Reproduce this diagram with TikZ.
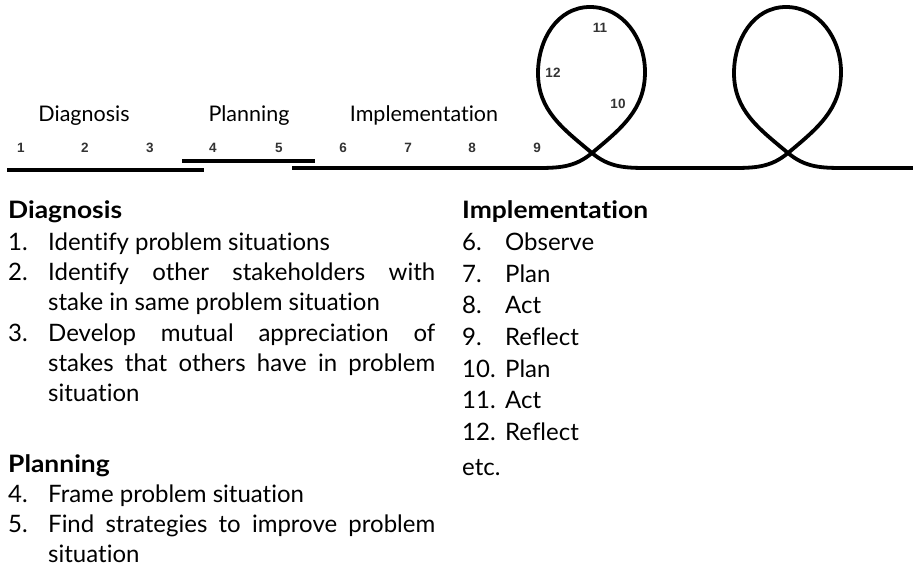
\documentclass[tikz,border=0pt]{standalone}
\usepackage{fontspec}
\setmainfont{Lato}[Ligatures=NoCommon, BoldFeatures={FakeStretch=1.1}]
\newfontfamily\tickfont{Liberation Sans}
\usetikzlibrary{calc}

\tikzset{
  track/.style={line width=3.8pt},
  tick/.style={font=\tickfont\bfseries\fontsize{13.5}{13.5}\selectfont, text=black!80, inner sep=0pt},
  phase/.style={font=\fontsize{21.5}{24}\selectfont, anchor=base, inner sep=0pt},
  body/.style={font=\fontsize{24}{30}\selectfont, anchor=base west, inner sep=0pt},
  head/.style={body, font=\fontsize{24}{30}\selectfont\bfseries},
}

\begin{document}
\begin{tikzpicture}[x=1pt,y=1pt]
\useasboundingbox (0,0) rectangle (913,-575);

\coordinate (diagStart) at (7,-170);
\coordinate (diagEnd) at (204,-170);
\coordinate (planStart) at (182,-161);
\coordinate (planEnd) at (315,-161);
\coordinate (implStart) at (292,-168);
\coordinate (crossA) at (592,-153);
\coordinate (crossB) at (788,-153);
\coordinate (implEnd) at (913,-168);

\draw[track] (diagStart)--(diagEnd);
\draw[track] (planStart)--(planEnd);
% the spiral: two loops, then on
\draw[track] (implStart)--(535,-168) to[out=0,in=220] (crossA)
  to[out=40,in=-90] (645,-72) to[out=90,in=0] (590,-7)
  to[out=180,in=90] (538,-73) to[out=-90,in=140] (crossA)
  to[out=-40,in=180] (648,-168)--(731,-168) to[out=0,in=220] (crossB)
  to[out=40,in=-90] (841,-72) to[out=90,in=0] (786,-7)
  to[out=180,in=90] (734,-73) to[out=-90,in=140] (crossB)
  to[out=-40,in=180] (844,-168)--(implEnd);

\node[phase] (phDiag) at (84,-122) {Diagnosis};
\node[phase] (phPlan) at (249,-122) {Planning};
\node[phase] (phImpl) at (424,-122) {Implementation};

\node[tick] (t1) at (21,-148) {1};
\node[tick] (t2) at (85,-148) {2};
\node[tick] (t3) at (150,-148) {3};
\node[tick] (t4) at (213,-148) {4};
\node[tick] (t5) at (279,-148) {5};
\node[tick] (t6) at (343,-148) {6};
\node[tick] (t7) at (408,-148) {7};
\node[tick] (t8) at (472,-148) {8};
\node[tick] (t9) at (537,-148) {9};
\node[tick] (t10) at (618,-104) {10};
\node[tick] (t11) at (600,-28) {11};
\node[tick] (t12) at (553,-73) {12};

% left column
\node[head] (hDiag) at (8,-218) {Diagnosis};
\node[body] (n1) at (8,-250) {1.};
\node[body] (i1) at (48,-250) {Identify problem situations};
\node[body] (n2) at (8,-280) {2.};
\node[body] (i2a) at (48,-280) {\makebox[387pt][s]{Identify other stakeholders with}};
\node[body] (i2b) at (48,-310) {stake in same problem situation};
\node[body] (n3) at (8,-341) {3.};
\node[body] (i3a) at (48,-341) {\makebox[387pt][s]{Develop mutual appreciation of}};
\node[body] (i3b) at (48,-371) {\makebox[387pt][s]{stakes that others have in problem}};
\node[body] (i3c) at (48,-401) {situation};

\node[head] (hPlan) at (8,-472) {Planning};
\node[body] (n4) at (8,-502) {4.};
\node[body] (i4) at (48,-502) {Frame problem situation};
\node[body] (n5) at (8,-532) {5.};
\node[body] (i5a) at (48,-532) {\makebox[387pt][s]{Find strategies to improve problem}};
\node[body] (i5b) at (48,-562) {situation};

% right column
\node[head] (hImpl) at (462,-218) {Implementation};
\node[body] (n6) at (462,-250) {6.};
\node[body] (i6) at (505,-250) {Observe};
\node[body] (n7) at (462,-282) {7.};
\node[body] (i7) at (505,-282) {Plan};
\node[body] (n8) at (462,-313) {8.};
\node[body] (i8) at (505,-313) {Act};
\node[body] (n9) at (462,-345) {9.};
\node[body] (i9) at (505,-345) {Reflect};
\node[body] (n10) at (462,-377) {10.};
\node[body] (i10) at (505,-377) {Plan};
\node[body] (n11) at (462,-408) {11.};
\node[body] (i11) at (505,-408) {Act};
\node[body] (n12) at (462,-440) {12.};
\node[body] (i12) at (505,-440) {Reflect};
\node[body] (etc) at (462,-475) {etc.};

\end{tikzpicture}
\end{document}
